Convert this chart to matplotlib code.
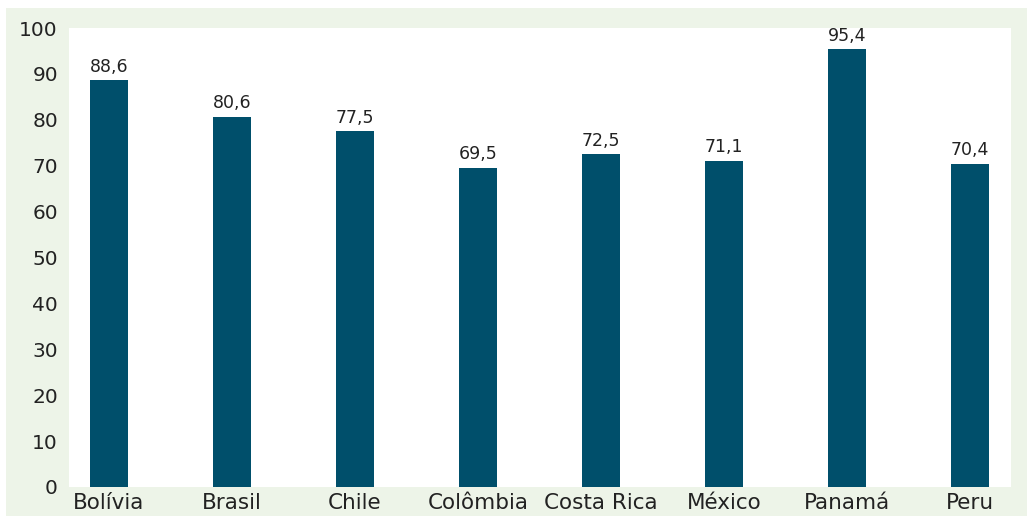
import numpy as np
import matplotlib.pyplot as plt
from matplotlib.patches import Rectangle

paises = ['Bolívia', 'Brasil', 'Chile', 'Colômbia', 'Costa Rica', 'México', 'Panamá', 'Peru']
valores = [88.6, 80.6, 77.5, 69.5, 72.5, 71.1, 95.4, 70.4]

plt.rcParams['font.family'] = ['DejaVu Sans']

fig = plt.figure(figsize=(10.27, 5.16), dpi=100)
fig.patch.set_facecolor('white')
# moldura verde clara atras do grafico
fig.patches.append(Rectangle((6/1027, 0), 1 - 6/1027, 1 - 8/516, transform=fig.transFigure,
                             facecolor='#edf4e8', edgecolor='none', zorder=-10))

ax = fig.add_axes([69/1027, 1 - 487/516, (1011 - 69)/1027, (487 - 28)/516])
ax.set_facecolor('white')

x = np.arange(len(paises))
ax.bar(x, valores, width=0.31, color='#004f6b')
for xi, v in zip(x, valores):
    ax.text(xi, v + 1.0, f'{v:.1f}'.replace('.', ','), ha='center', va='bottom',
            fontsize=12.5, color='#222222')

ax.set_xlim(-0.325, 7.335)
ax.set_ylim(0, 100)
ax.set_yticks(np.arange(0, 101, 10))
ax.set_xticks(x)
ax.set_xticklabels(paises)
ax.tick_params(length=0, labelcolor='#222222')
ax.tick_params(axis='y', pad=8, labelsize=14.5)
ax.tick_params(axis='x', pad=4, labelsize=15.5)
for s in ax.spines.values():
    s.set_visible(False)

fig.savefig('out.png', dpi=100)
